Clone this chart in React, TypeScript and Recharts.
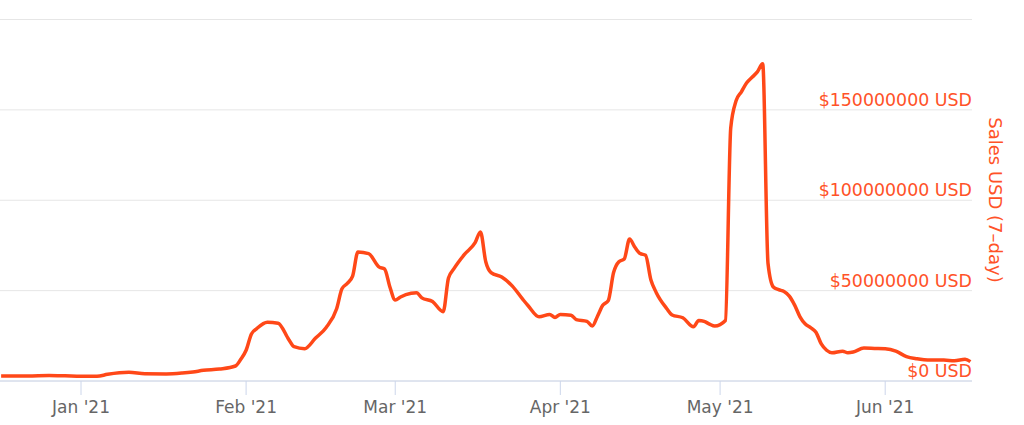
import { CartesianGrid, Label, Line, LineChart, XAxis, YAxis } from "recharts";

const DAY = 86400000;

// daily 7-day sales (millions of USD)
const dates = [
  "2020-12-17", "2020-12-22", "2020-12-26", "2020-12-29", "2021-01-01",
  "2021-01-04", "2021-01-06", "2021-01-10", "2021-01-13", "2021-01-17",
  "2021-01-20", "2021-01-22", "2021-01-24", "2021-01-27", "2021-01-30",
  "2021-01-31", "2021-02-01", "2021-02-02", "2021-02-03", "2021-02-05",
  "2021-02-07", "2021-02-09", "2021-02-10", "2021-02-12", "2021-02-14",
  "2021-02-16", "2021-02-18", "2021-02-19", "2021-02-20", "2021-02-21",
  "2021-02-22", "2021-02-24", "2021-02-26", "2021-02-27", "2021-02-28",
  "2021-03-01", "2021-03-02", "2021-03-04", "2021-03-05", "2021-03-06",
  "2021-03-08", "2021-03-10", "2021-03-11", "2021-03-12", "2021-03-14",
  "2021-03-16", "2021-03-17", "2021-03-18", "2021-03-19", "2021-03-21",
  "2021-03-23", "2021-03-25", "2021-03-26", "2021-03-28", "2021-03-30",
  "2021-03-31", "2021-04-01", "2021-04-03", "2021-04-04", "2021-04-06",
  "2021-04-07", "2021-04-08", "2021-04-09", "2021-04-10", "2021-04-11",
  "2021-04-12", "2021-04-13", "2021-04-14", "2021-04-15", "2021-04-16",
  "2021-04-17", "2021-04-18", "2021-04-19", "2021-04-21", "2021-04-22",
  "2021-04-24", "2021-04-26", "2021-04-27", "2021-04-28", "2021-04-29",
  "2021-04-30", "2021-05-02", "2021-05-03", "2021-05-04", "2021-05-05",
  "2021-05-06", "2021-05-07", "2021-05-08", "2021-05-09", "2021-05-10",
  "2021-05-11", "2021-05-12", "2021-05-13", "2021-05-14", "2021-05-15",
  "2021-05-16", "2021-05-17", "2021-05-18", "2021-05-19", "2021-05-20",
  "2021-05-21", "2021-05-22", "2021-05-24", "2021-05-25", "2021-05-26",
  "2021-05-28", "2021-05-30", "2021-06-01", "2021-06-03", "2021-06-05",
  "2021-06-07", "2021-06-09", "2021-06-12", "2021-06-14", "2021-06-16",
  "2021-06-17",
];

const salesM = [
  2.8, 2.8, 3.1, 2.9, 2.6,
  2.6, 3.7, 4.8, 4.0, 3.9,
  4.4, 5.0, 5.9, 6.6, 8.3,
  12, 17, 26, 29, 32.5,
  32, 23, 19, 17.9, 23.6,
  29.5, 40, 51, 54, 58,
  71.4, 70.5, 63, 62, 52,
  44.8, 46.5, 48.5, 48.8, 46,
  44, 38.3, 57, 62, 70,
  76.5, 82.5, 66, 60, 57.5,
  52.5, 45, 41.5, 35.5, 36.8,
  35.2, 36.8, 36.4, 34, 33,
  30.4, 36, 42, 44.5, 60,
  66, 67.5, 78.5, 74, 70.5,
  69.6, 56, 49, 40, 36.5,
  35, 30, 33.5, 33, 31.5,
  30.4, 33.5, 140, 155, 160,
  165, 168, 171, 175.5, 65,
  52, 50.5, 49.5, 47, 42,
  35.5, 31.5, 29.5, 27, 20.5,
  17, 15.6, 16.5, 15.6, 16,
  18.2, 18, 17.8, 16.5, 13.5,
  12.3, 11.6, 11.6, 11.2, 12,
  10.7,
];

const monthTicks = ["2021-01-01", "2021-02-01", "2021-03-01", "2021-04-01", "2021-05-01", "2021-06-01"];
const monthNames = ["Jan", "Feb", "Mar", "Apr", "May", "Jun", "Jul", "Aug", "Sep", "Oct", "Nov", "Dec"];
const yTicks = [0, 50000000, 100000000, 150000000, 200000000];

const toMs = (d: string) => Date.parse(d + "T00:00:00Z");
const data = dates.map((d, i) => ({ t: toMs(d), v: salesM[i] * 1e6 }));

const JAN1 = toMs("2021-01-01");
const X_DOMAIN = [JAN1 - 15.21 * DAY, JAN1 + 167.3 * DAY];

const RED = "#ff4818";
const LABEL_RED = "#ff5228";
const FONT = "'DejaVu Sans', sans-serif";
const PLOT_RIGHT = 972;

const fmtMonth = (ms: number) => {
  const d = new Date(ms);
  return `${monthNames[d.getUTCMonth()]} '${String(d.getUTCFullYear()).slice(2)}`;
};

function YTick(props: any) {
  const { y, payload } = props;
  if (payload.value >= 200000000) return null;
  return (
    <text x={PLOT_RIGHT} y={y - 4} textAnchor="end" fill={LABEL_RED} fontSize={17.4} fontFamily={FONT}>
      ${payload.value} USD
    </text>
  );
}

const renderTitle = () => (
  <text
    x={995}
    y={200}
    transform="rotate(90 995 200)"
    textAnchor="middle"
    dominantBaseline="central"
    fill={LABEL_RED}
    fontSize={18}
    fontFamily={FONT}
  >
    Sales USD (7–day)
  </text>
);

export default function App() {
  return (
    <div style={{ position: "absolute", left: 0, top: 0, width: 1024, height: 425, background: "#fff", fontFamily: FONT }}>
      <LineChart width={1024} height={425} data={data} margin={{ top: 19.5, right: 0, bottom: 0, left: 0 }}>
        <CartesianGrid vertical={false} stroke="#e6e6e6" />
        <XAxis
          dataKey="t"
          type="number"
          scale="time"
          domain={X_DOMAIN}
          allowDataOverflow
          ticks={monthTicks.map(toMs)}
          tickFormatter={fmtMonth}
          height={44}
          stroke="#ccd6eb"
          tickSize={14}
          tickMargin={6}
          tick={{ fill: "#666666", fontSize: 17, fontFamily: FONT }}
        />
        <YAxis
          orientation="right"
          width={52}
          domain={[0, 200000000]}
          ticks={yTicks}
          axisLine={false}
          tickLine={false}
          tick={<YTick />}
        >
          <Label content={renderTitle} />
        </YAxis>
        <Line
          type="monotone"
          dataKey="v"
          stroke={RED}
          strokeWidth={3.5}
          dot={false}
          activeDot={false}
          isAnimationActive={false}
        />
      </LineChart>
    </div>
  );
}
